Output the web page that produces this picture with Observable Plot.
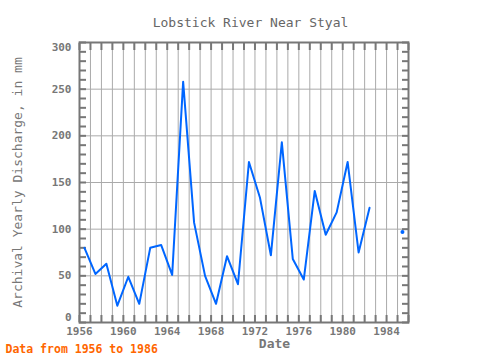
<!DOCTYPE html>
<html>
<head>
<meta charset="utf-8">
<script src="https://cdn.jsdelivr.net/npm/d3@7"></script>
<script src="https://cdn.jsdelivr.net/npm/@observablehq/plot@0.6"></script>
<style>
  html, body { margin: 0; padding: 0; background: #fff; }
</style>
</head>
<body>
<div id="chart"></div>
<script>
const years = [1956,1957,1958,1959,1960,1961,1962,1963,1964,1965,1966,1967,1968,1969,1970,
               1971,1972,1973,1974,1975,1976,1977,1978,1979,1980,1981,1982,1983,1984,1985];
const discharge = [80,52,63,18,49,20,80,83,51,258,107,50,20,71,41,
                   172,134,72,193,68,46,141,94,118,172,75,123,null,null,97];
const xTicks = [1956,1960,1964,1968,1972,1976,1980,1984];
const yTicks = [0,50,100,150,200,250,300];
const title = "Lobstick River Near Styal";
const yLabel = "Archival Yearly Discharge, in mm";
const xLabel = "Date";
const caption = "Data from 1956 to 1986";

const data = years.map((y, i) => ({year: y, v: discharge[i]}));
const isolated = data.filter((d, i) => d.v != null &&
  (i === 0 || data[i-1].v == null) && (i === data.length - 1 || data[i+1].v == null));
const xOf = d => d.year + 0.45;

const font = "DejaVu Sans Mono, monospace";
const gray = "#777";
const yMin = yTicks[0], yMax = yTicks[yTicks.length - 1];
const yLabelOpts = {anchor: "left", tickSize: 0, tickPadding: 8, label: null,
  fontSize: 11, fontWeight: "bold", fill: gray};

const chart = Plot.plot({
  width: 480,
  height: 360,
  marginLeft: 79,
  marginRight: 72,
  marginTop: 42,
  marginBottom: 38,
  style: {fontFamily: font, color: gray, background: "#fff"},
  x: {domain: [1956, 1986]},
  y: {domain: [yMin, yMax]},
  marks: [
    Plot.gridX(d3.range(1957, 1986), {stroke: "#aaa", strokeOpacity: 1}),
    Plot.gridY(yTicks.slice(1, -1), {stroke: "#aaa", strokeOpacity: 1}),
    // inner ticks
    Plot.axisX(d3.range(1956, 1987), {anchor: "bottom", tickSize: -7, text: null, label: null, stroke: gray, strokeWidth: 2}),
    Plot.axisX(d3.range(1956, 1987), {anchor: "top", tickSize: -7, text: null, label: null, stroke: gray, strokeWidth: 2}),
    Plot.axisY(d3.range(0, 301, 10), {anchor: "left", tickSize: -7, text: null, label: null, stroke: gray, strokeWidth: 2}),
    Plot.axisY(d3.range(0, 301, 10), {anchor: "right", tickSize: -7, text: null, label: null, stroke: gray, strokeWidth: 2}),
    // tick labels
    Plot.axisX(xTicks, {anchor: "bottom", tickSize: 0, tickPadding: 5, tickFormat: "d", label: null,
      fontSize: 11, fontWeight: "bold", fill: gray}),
    Plot.axisY(yTicks.slice(1, -1), yLabelOpts),
    Plot.axisY([yMin], {...yLabelOpts, dy: -5}),
    Plot.axisY([yMax], {...yLabelOpts, dy: 5}),
    Plot.frame({stroke: gray, strokeWidth: 2}),
    Plot.line(data, {x: xOf, y: "v", stroke: "#0066ff", strokeWidth: 2}),
    Plot.dot(isolated, {x: xOf, y: "v", r: 2, fill: "#0066ff", stroke: null}),
    Plot.text([title], {frameAnchor: "top", dx: 6.5, dy: -25, text: d => d, fontSize: 13, fill: "#666", fontFamily: font}),
    Plot.text([yLabel], {frameAnchor: "left", textAnchor: "middle", dx: -62, rotate: -90, text: d => d, fontSize: 13, fill: gray, fontFamily: font}),
    Plot.text([xLabel], {frameAnchor: "bottom", dx: 30.5, dy: 25, text: d => d, fontSize: 13, fontWeight: "bold", fill: gray, fontFamily: font}),
    Plot.text([caption], {frameAnchor: "bottom-left", dx: -74, dy: 30, textAnchor: "start", text: d => d, fontSize: 11.5, fontWeight: "bold", fill: "#ff6600", fontFamily: font})
  ]
});
document.getElementById("chart").appendChild(chart);
</script>
</body>
</html>
